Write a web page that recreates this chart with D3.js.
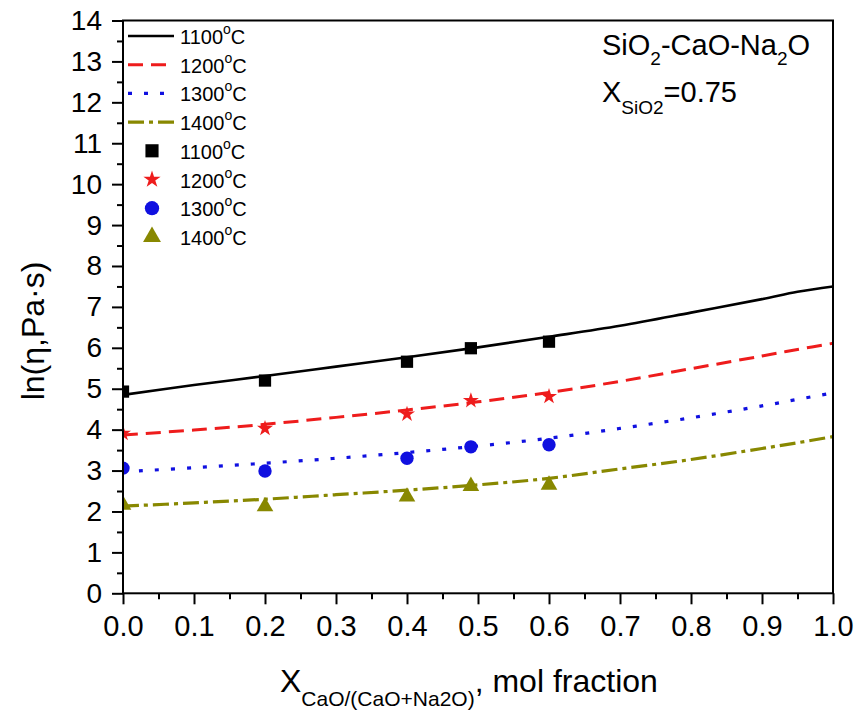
<!DOCTYPE html>
<html><head><meta charset="utf-8">
<script src="https://cdn.jsdelivr.net/npm/d3@7"></script>
<style>body{margin:0;background:#fff}text{font-family:Arial,"Liberation Sans",sans-serif}</style>
</head><body><svg id="c" width="859" height="713"></svg>
<script>
// Data
const seriesNames = ["1100", "1200", "1300", "1400"];
const lineX = [0, 0.1, 0.2, 0.3, 0.4, 0.5, 0.6, 0.7, 0.8, 0.9, 0.95, 1.0];
const line1100 = [4.85, 5.09, 5.31, 5.54, 5.77, 6.01, 6.27, 6.54, 6.86, 7.19, 7.37, 7.50];
const line1200 = [3.87, 3.99, 4.13, 4.30, 4.48, 4.68, 4.91, 5.18, 5.49, 5.80, 5.96, 6.11];
const line1300 = [2.97, 3.07, 3.18, 3.30, 3.44, 3.60, 3.79, 4.03, 4.29, 4.58, 4.74, 4.90];
const line1400 = [2.13, 2.21, 2.30, 2.41, 2.52, 2.65, 2.81, 3.04, 3.27, 3.54, 3.68, 3.83];
const pointX = [0, 0.2, 0.4, 0.49, 0.6];
const pts1100 = [4.93, 5.20, 5.66, 5.99, 6.15];
const pts1200 = [3.91, 4.03, 4.38, 4.71, 4.81];
const pts1300 = [3.06, 2.99, 3.30, 3.58, 3.63];
const pts1400 = [2.16, 2.12, 2.36, 2.62, 2.65];
const xTicks = [0, 0.1, 0.2, 0.3, 0.4, 0.5, 0.6, 0.7, 0.8, 0.9, 1.0];
const yTicks = [0,1,2,3,4,5,6,7,8,9,10,11,12,13,14];

const W = 859, H = 713;
const m = {l:123, r:26, t:20.5, b:119.7};
const svg = d3.select("#c");
const x = d3.scaleLinear().domain([0,1]).range([m.l, W-m.r]);
const y = d3.scaleLinear().domain([0,14]).range([H-m.b, m.t]);

svg.append("defs").append("clipPath").attr("id","clip").append("rect")
  .attr("x", m.l).attr("y", m.t).attr("width", W-m.l-m.r).attr("height", H-m.t-m.b);

const colors = ["#000000", "#ee1c1c", "#1010e0", "#888800"];
const dashes = [null, "15,8", "4,12", "16,5,4,5"];
const widths = [2.6, 3, 3.2, 3.2];
const lines = [line1100, line1200, line1300, line1400];
const pts = [pts1100, pts1200, pts1300, pts1400];
const symbols = [d3.symbolSquare, d3.symbolStar, d3.symbolCircle, d3.symbolTriangle];
const symSizes = [150, 80, 140, 120];

const plot = svg.append("g").attr("clip-path", "url(#clip)");
const lineGen = d3.line().x(d => x(d[0])).y(d => y(d[1])).curve(d3.curveCatmullRom.alpha(0.5));
lines.forEach((vals, i) => {
  plot.append("path").datum(lineX.map((xv, k) => [xv, vals[k]]))
    .attr("d", lineGen).attr("fill", "none").attr("stroke", colors[i])
    .attr("stroke-width", widths[i]).attr("stroke-dasharray", dashes[i]);
});
pts.forEach((vals, i) => {
  plot.selectAll(null).data(pointX.map((xv, k) => [xv, vals[k]])).enter()
    .append("path").attr("d", d3.symbol().type(symbols[i]).size(symSizes[i]))
    .attr("transform", d => `translate(${x(d[0])},${y(d[1])})`)
    .attr("fill", colors[i]);
});

// Axes
const fmt = d3.format(".1f");
const xAxis = svg.append("g").attr("transform", `translate(0,${y(0)})`)
  .call(d3.axisBottom(x).tickValues(xTicks).tickFormat(fmt).tickSize(11).tickPadding(11));
const xMinor = svg.append("g").attr("transform", `translate(0,${y(0)})`)
  .call(d3.axisBottom(x).tickValues(d3.range(0.05, 1, 0.1)).tickFormat("").tickSize(6));
const yAxis = svg.append("g").attr("transform", `translate(${x(0)},0)`)
  .call(d3.axisLeft(y).tickValues(yTicks).tickSize(11).tickPadding(10));
const yMinor = svg.append("g").attr("transform", `translate(${x(0)},0)`)
  .call(d3.axisLeft(y).tickValues(d3.range(0.5, 14, 1)).tickFormat("").tickSize(6));
[xAxis, xMinor, yAxis, yMinor].forEach(g => {
  g.selectAll("line").attr("stroke", "#000").attr("stroke-width", 2);
  g.select(".domain").remove();
  g.selectAll("text").attr("fill", "#000")
    .attr("font-family", "Arial, 'Liberation Sans', sans-serif");
});
xAxis.selectAll("text").attr("font-size", 29);
yAxis.selectAll("text").attr("font-size", 28);
// frame
svg.append("rect").attr("x", m.l).attr("y", m.t).attr("width", W-m.l-m.r).attr("height", H-m.t-m.b)
  .attr("fill", "none").attr("stroke", "#000").attr("stroke-width", 2);

// Axis titles
const xt = svg.append("text").attr("x", 280).attr("y", 692).attr("font-size", 32).attr("fill", "#000");
xt.append("tspan").text("X");
xt.append("tspan").attr("font-size", 21).attr("dy", 14).text("CaO/(CaO+Na2O)");
xt.append("tspan").attr("dy", -14).text(", mol fraction");

svg.append("text").attr("transform", "translate(44,331) rotate(-90)").attr("text-anchor", "middle")
  .attr("font-size", 32).attr("fill", "#000").text("ln(η,Pa·s)");

// Annotation
const a1 = svg.append("text").attr("x", 602).attr("y", 55).attr("font-size", 29).attr("fill", "#000");
a1.append("tspan").text("SiO");
a1.append("tspan").attr("font-size", 19).attr("dy", 10).text("2");
a1.append("tspan").attr("dy", -10).text("-CaO-Na");
a1.append("tspan").attr("font-size", 19).attr("dy", 10).text("2");
a1.append("tspan").attr("dy", -10).text("O");
const a2 = svg.append("text").attr("x", 602).attr("y", 102).attr("font-size", 29).attr("fill", "#000");
a2.append("tspan").text("X");
a2.append("tspan").attr("font-size", 19).attr("dy", 12).text("SiO2");
a2.append("tspan").attr("dy", -12).text("=0.75");

// Legend
const legY0 = 36, legStep = 28.7;
function legLabel(yy, name) {
  const t = svg.append("text").attr("x", 180).attr("y", yy + 8).attr("font-size", 20).attr("fill", "#000");
  t.append("tspan").text(name);
  t.append("tspan").attr("font-size", 14).attr("dy", -10).text("o");
  t.append("tspan").attr("dy", 10).text("C");
}
seriesNames.forEach((name, i) => {
  const yy = legY0 + i * legStep;
  svg.append("line").attr("x1", 128).attr("x2", 174).attr("y1", yy).attr("y2", yy)
    .attr("stroke", colors[i]).attr("stroke-width", widths[i]).attr("stroke-dasharray", dashes[i]);
  legLabel(yy, name);
});
seriesNames.forEach((name, i) => {
  const yy = legY0 + (i + 4) * legStep;
  svg.append("path").attr("d", d3.symbol().type(symbols[i]).size(symSizes[i] * 1.15))
    .attr("transform", `translate(152,${yy})`).attr("fill", colors[i]);
  legLabel(yy, name);
});
</script></body></html>
